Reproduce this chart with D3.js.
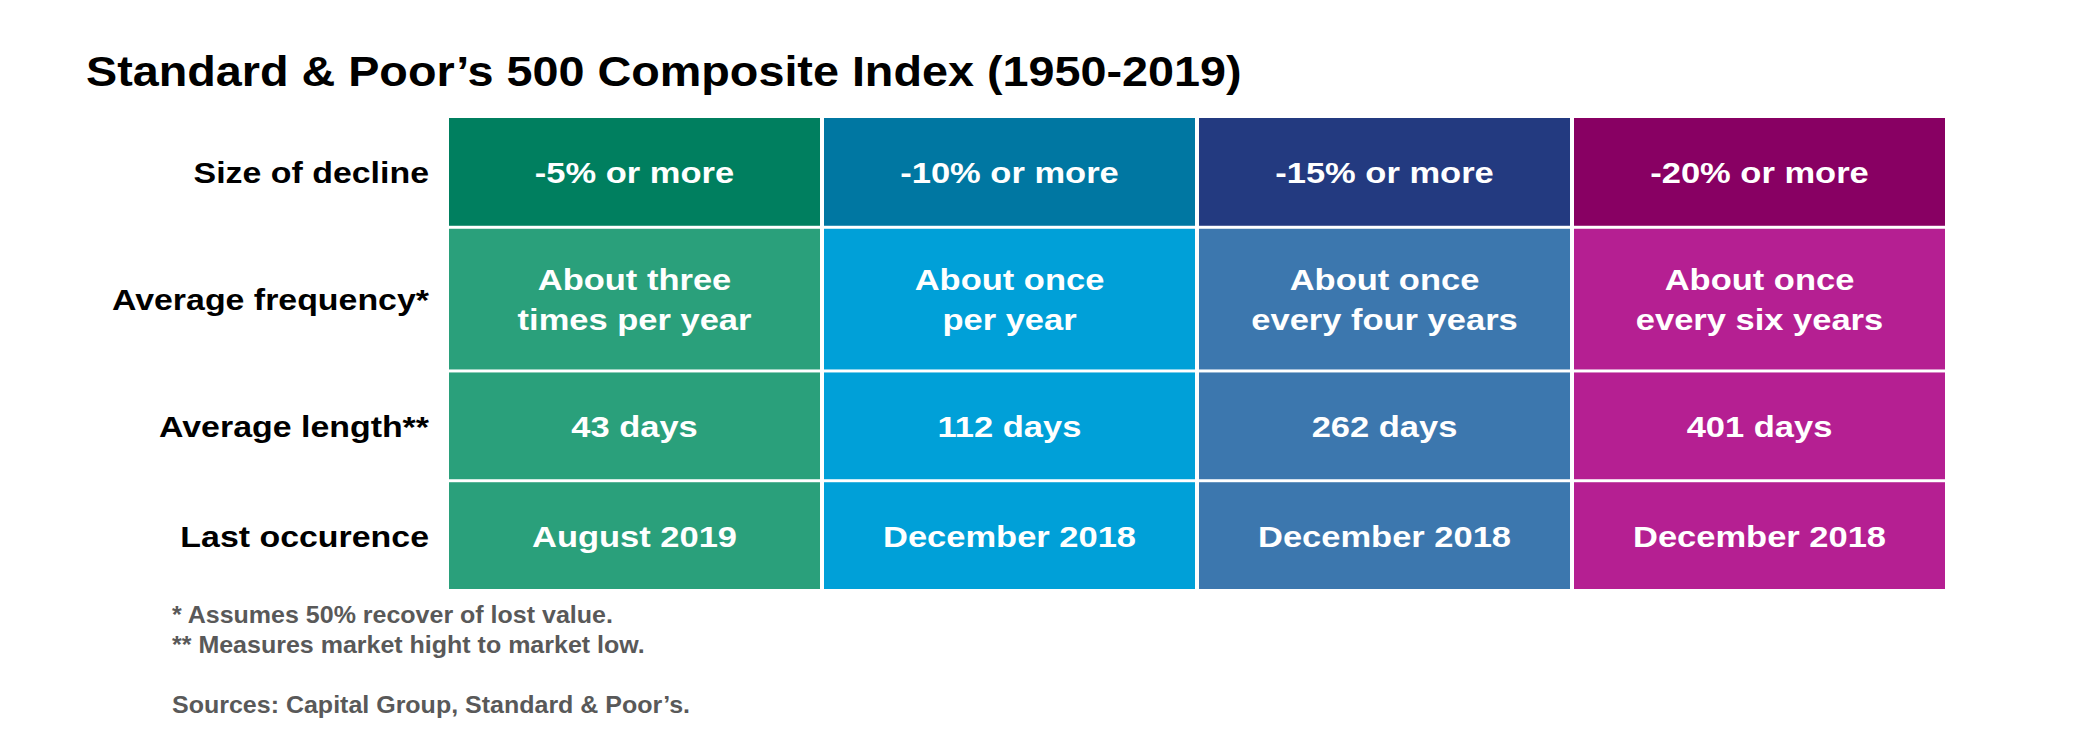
<!DOCTYPE html>
<html>
<head>
<meta charset="utf-8">
<script src="https://cdn.jsdelivr.net/npm/d3@7"></script>
<style>
  html, body { margin: 0; padding: 0; background: #ffffff; }
  svg { display: block; }
  text { font-family: "Liberation Sans", Arial, Helvetica, sans-serif; font-weight: bold; }
</style>
</head>
<body>
<svg id="chart" width="2100" height="750"></svg>
<script>
// ---------- DATA ----------
const title = "Standard & Poor\u2019s 500 Composite Index (1950-2019)";
const categories = ["-5% or more", "-10% or more", "-15% or more", "-20% or more"];
const rowLabels = ["Size of decline", "Average frequency*", "Average length**", "Last occurence"];
const frequency = [
  ["About three", "times per year"],
  ["About once", "per year"],
  ["About once", "every four years"],
  ["About once", "every six years"]
];
const lengthDays = [43, 112, 262, 401];
const lastOccurrence = ["August 2019", "December 2018", "December 2018", "December 2018"];
const footnotes = [
  "* Assumes 50% recover of lost value.",
  "** Measures market hight to market low."
];
const source = "Sources: Capital Group, Standard & Poor\u2019s.";

// ---------- STYLE / LAYOUT ----------
const headerPalette = ["#007f5f", "#0077a2", "#233a80", "#880063"];
const bodyPalette   = ["#2aa07b", "#00a0d8", "#3c77ae", "#b51f92"];
const headerColor = d3.scaleOrdinal().domain(categories).range(headerPalette);
const bodyColor   = d3.scaleOrdinal().domain(categories).range(bodyPalette);

const svg = d3.select("#chart");

const x = d3.scaleBand()
  .domain(categories)
  .range([449, 1945])
  .paddingInner(4 / 375)
  .paddingOuter(0);

// rows of unequal height: build from cumulative weights through a linear scale
const rowWeights = [108, 141, 107, 107];
const rowGap = 3;
const totalUnits = d3.sum(rowWeights) + rowGap * (rowWeights.length - 1);
const yLin = d3.scaleLinear().domain([0, totalUnits]).range([118, 589]);
let acc = 0;
const rows = rowLabels.map((label, i) => {
  const r = { label, y0: yLin(acc), y1: yLin(acc + rowWeights[i]) };
  acc += rowWeights[i] + rowGap;
  return r;
});

// Title
svg.append("text")
  .attr("transform", "translate(86,86) scale(1.087,1)")
  .attr("font-size", 43)
  .attr("fill", "#000")
  .text(title);

// Cell contents per row
const rowContents = [
  categories.map(c => [c]),
  frequency,
  lengthDays.map(d => [d + " days"]),
  lastOccurrence.map(d => [d])
];

const rowG = svg.selectAll("g.row")
  .data(rows)
  .join("g")
  .attr("class", "row");

// Row labels
rowG.append("text")
  .attr("transform", d => `translate(429,${(d.y0 + d.y1) / 2 + 11}) scale(1.13,1)`)
  .attr("text-anchor", "end")
  .attr("font-size", 30)
  .attr("fill", "#000")
  .text(d => d.label);

// Cells
rowG.each(function (row, ri) {
  const g = d3.select(this);
  const cells = g.selectAll("g.cell")
    .data(categories.map((c, ci) => ({ cat: c, lines: rowContents[ri][ci] })))
    .join("g")
    .attr("class", "cell");

  cells.append("rect")
    .attr("x", d => x(d.cat))
    .attr("y", row.y0)
    .attr("width", x.bandwidth())
    .attr("height", row.y1 - row.y0)
    .attr("fill", d => ri === 0 ? headerColor(d.cat) : bodyColor(d.cat));

  const cy = (row.y0 + row.y1) / 2 + 11;
  cells.each(function (d) {
    const n = d.lines.length;
    const cx = x(d.cat) + x.bandwidth() / 2;
    d3.select(this).selectAll("text")
      .data(d.lines)
      .join("text")
      .attr("transform", (t, li) => `translate(${cx},${cy + (li - (n - 1) / 2) * 40}) scale(1.15,1)`)
      .attr("text-anchor", "middle")
      .attr("font-size", 30)
      .attr("fill", "#ffffff")
      .text(t => t);
  });
});

// Footnotes
svg.selectAll("text.foot")
  .data(footnotes.concat([source]))
  .join("text")
  .attr("class", "foot")
  .attr("transform", (d, i) => `translate(172,${i < 2 ? 623 + i * 30 : 713}) scale(1.087,1)`)
  .attr("font-size", 23)
  .attr("fill", "#595959")
  .text(d => d);
</script>
</body>
</html>
